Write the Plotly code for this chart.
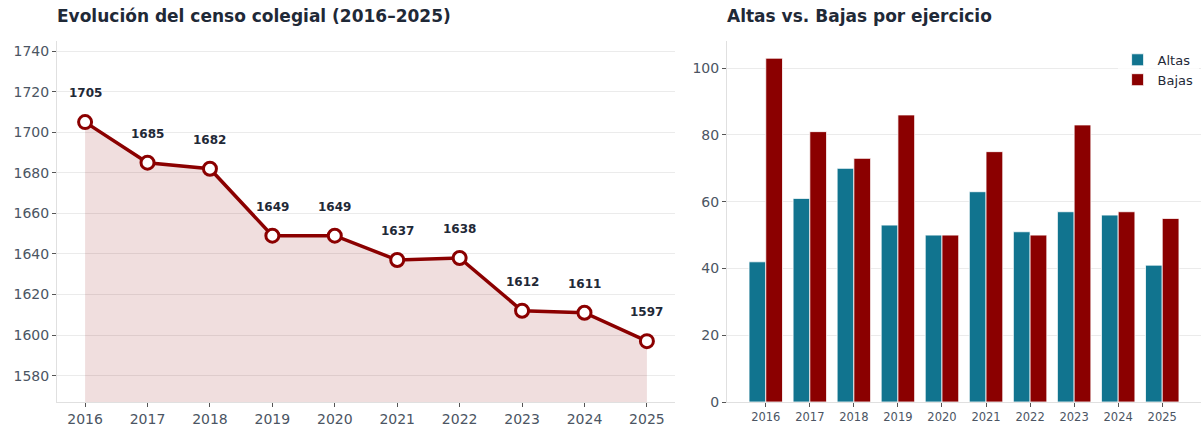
import plotly.graph_objects as go

years = [2016, 2017, 2018, 2019, 2020, 2021, 2022, 2023, 2024, 2025]
censo = [1705, 1685, 1682, 1649, 1649, 1637, 1638, 1612, 1611, 1597]
altas = [42, 61, 70, 53, 50, 63, 51, 57, 56, 41]
bajas = [103, 81, 73, 86, 50, 75, 50, 83, 57, 55]
y_ticks_left = [1580, 1600, 1620, 1640, 1660, 1680, 1700, 1720, 1740]
y_ticks_right = [0, 20, 40, 60, 80, 100]

RED = "#8b0000"
TEAL = "#11748f"
FONT = "DejaVu Sans"
TXT = "#1f2937"
TICK = "#4b5563"
GRID = "#ebebeb"

fig = go.Figure()

# Left: line with fill
fig.add_trace(go.Scatter(
    x=years, y=censo, mode="lines+markers",
    line=dict(color=RED, width=3.5),
    marker=dict(size=13, color="white", line=dict(color=RED, width=3)),
    fill="tozeroy", fillcolor="rgba(139,0,0,0.13)",
    xaxis="x", yaxis="y", showlegend=False, cliponaxis=True,
))

# Right: bars
fig.add_trace(go.Bar(
    x=years, y=altas, name="Altas", marker=dict(color=TEAL, line=dict(color="white", width=0.8)),
    xaxis="x2", yaxis="y2", offsetgroup="a",
))
fig.add_trace(go.Bar(
    x=years, y=bajas, name="Bajas", marker=dict(color=RED, line=dict(color="white", width=0.8)),
    xaxis="x2", yaxis="y2", offsetgroup="b",
))

annotations = []
for x, v in zip(years, censo):
    annotations.append(dict(
        x=x, y=v, xref="x", yref="y", text=f"<b>{v}</b>", showarrow=False,
        yshift=29, font=dict(family=FONT, size=12, color=TXT),
    ))
annotations.append(dict(
    x=55/1201, y=1-16/427, xref="paper", yref="paper", xanchor="left", yanchor="middle",
    text="<b>Evolución del censo colegial (2016–2025)</b>", showarrow=False,
    font=dict(family=FONT, size=17, color=TXT),
))
annotations.append(dict(
    x=725/1201, y=1-16/427, xref="paper", yref="paper", xanchor="left", yanchor="middle",
    text="<b>Altas vs. Bajas por ejercicio</b>", showarrow=False,
    font=dict(family=FONT, size=17, color=TXT),
))

ydom = [1-402/427, 1-41/427]
axis_common = dict(
    showline=True, linecolor="#e0e0e0", linewidth=1,
    ticks="outside", ticklen=4, tickcolor="#555555", tickwidth=1,
    zeroline=False, automargin=False,
)

fig.update_layout(
    width=1201, height=427,
    margin=dict(l=0, r=0, t=0, b=0, autoexpand=False),
    paper_bgcolor="white", plot_bgcolor="white",
    font=dict(family=FONT, color=TICK),
    barmode="group", bargap=0.24, bargroupgap=0,
    annotations=annotations,
    xaxis=dict(
        domain=[57/1201, 675/1201], range=[2015.55, 2025.45],
        tickvals=years, ticktext=[str(y) for y in years],
        showgrid=False, tickfont=dict(size=14, color=TICK), anchor="y",
        **axis_common,
    ),
    yaxis=dict(
        domain=ydom, range=[1567, 1745], tickvals=y_ticks_left,
        showgrid=True, gridcolor=GRID, gridwidth=1,
        tickfont=dict(size=14, color=TICK), anchor="x",
        **axis_common,
    ),
    xaxis2=dict(
        domain=[727/1201, 1.0], range=[2015.12, 2025.88],
        tickvals=years, ticktext=[str(y) for y in years],
        showgrid=False, tickfont=dict(size=11.5, color=TICK), anchor="y2",
        **axis_common,
    ),
    yaxis2=dict(
        domain=ydom, range=[0, 108.15], tickvals=y_ticks_right,
        showgrid=True, gridcolor=GRID, gridwidth=1,
        tickfont=dict(size=14, color=TICK), anchor="x2",
        **axis_common,
    ),
    legend=dict(
        x=0.998, y=0.895, xanchor="right", yanchor="top",
        bgcolor="rgba(255,255,255,0.8)", font=dict(family=FONT, size=13, color=TXT),
        tracegroupgap=0,
    ),
)

fig.write_html(
    "out.html",
    config={"displayModeBar": False},
    post_script="document.body.style.margin='0';document.body.style.overflow='hidden';",
)
